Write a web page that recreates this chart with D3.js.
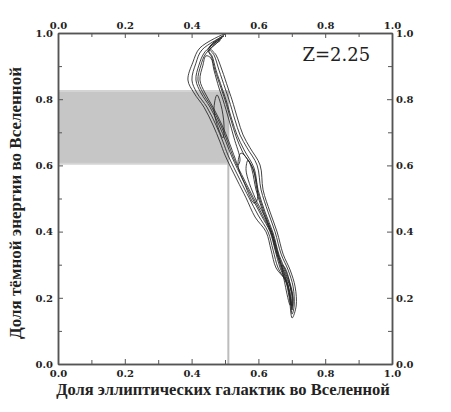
<!DOCTYPE html>
<html><head><meta charset="utf-8">
<script src="https://cdn.jsdelivr.net/npm/d3@7"></script>
<style>html,body{margin:0;padding:0;background:#fff;}svg{display:block;}</style>
</head><body>
<script>
// ---- data ----
const majorTicks = [0, 0.2, 0.4, 0.6, 0.8, 1.0];
const minorTicks = [0.1, 0.3, 0.5, 0.7, 0.9];
const tickLabels = ["0.0", "0.2", "0.4", "0.6", "0.8", "1.0"];
const xTitle = "Доля эллиптических галактик во Вселенной";
const yTitle = "Доля тёмной энергии во Вселенной";
const zLabel = "Z=2.25";
// constraint band (dark energy fraction range) and elliptical fraction
const bandY = [0.605, 0.825];
const bandX = [0, 0.51];
const markerX = 0.51;
// likelihood contours, [elliptical fraction, dark energy fraction]
const contour1 = [[0.500,0.997],[0.425,0.955],[0.404,0.912],[0.389,0.858],[0.407,0.819],[0.437,0.776],[0.464,0.722],[0.485,0.671],[0.500,0.631],[0.536,0.556],[0.563,0.502],[0.590,0.444],[0.623,0.399],[0.638,0.344],[0.653,0.290],[0.680,0.254],[0.692,0.202],[0.701,0.139],[0.713,0.175],[0.710,0.233],[0.695,0.284],[0.674,0.332],[0.656,0.399],[0.635,0.459],[0.614,0.526],[0.605,0.601],[0.575,0.653],[0.554,0.692],[0.539,0.737],[0.521,0.798],[0.509,0.834],[0.491,0.888],[0.473,0.934],[0.455,0.958]];
const contour2 = [[0.497,0.991],[0.431,0.949],[0.413,0.909],[0.401,0.858],[0.416,0.819],[0.446,0.776],[0.473,0.722],[0.494,0.671],[0.509,0.631],[0.545,0.556],[0.572,0.502],[0.599,0.450],[0.629,0.399],[0.644,0.344],[0.659,0.290],[0.683,0.248],[0.695,0.199],[0.701,0.151],[0.707,0.175],[0.704,0.233],[0.689,0.284],[0.668,0.332],[0.650,0.399],[0.629,0.459],[0.608,0.526],[0.596,0.601],[0.566,0.653],[0.545,0.692],[0.530,0.737],[0.512,0.798],[0.500,0.834],[0.482,0.888],[0.467,0.934],[0.452,0.955]];
const contour3 = [[0.491,0.985],[0.440,0.943],[0.422,0.903],[0.413,0.858],[0.428,0.819],[0.455,0.776],[0.482,0.722],[0.503,0.671],[0.521,0.625],[0.554,0.556],[0.581,0.502],[0.608,0.450],[0.635,0.399],[0.650,0.344],[0.665,0.290],[0.686,0.242],[0.695,0.193],[0.701,0.163],[0.704,0.193],[0.698,0.233],[0.683,0.278],[0.662,0.329],[0.644,0.396],[0.620,0.459],[0.599,0.526],[0.587,0.592],[0.557,0.647],[0.536,0.692],[0.521,0.737],[0.503,0.798],[0.491,0.834],[0.473,0.888],[0.461,0.931],[0.449,0.949]];
const contour3b = [[0.486,0.978],[0.442,0.937],[0.428,0.903],[0.419,0.858],[0.434,0.819],[0.460,0.776],[0.487,0.722],[0.508,0.671],[0.526,0.622],[0.558,0.556],[0.585,0.502],[0.612,0.450],[0.638,0.397],[0.653,0.344],[0.668,0.290],[0.688,0.240],[0.697,0.193],[0.701,0.170],[0.703,0.200],[0.696,0.233],[0.680,0.278],[0.659,0.329],[0.641,0.396],[0.617,0.459],[0.596,0.526],[0.584,0.590],[0.553,0.640],[0.533,0.688],[0.518,0.737],[0.500,0.798],[0.488,0.834],[0.470,0.888],[0.460,0.927],[0.452,0.945]];
const contour4a = [[0.443,0.931],[0.434,0.903],[0.425,0.858],[0.440,0.819],[0.464,0.776],[0.491,0.722],[0.512,0.671],[0.530,0.622],[0.539,0.601],[0.545,0.616],[0.527,0.683],[0.512,0.737],[0.494,0.798],[0.482,0.834],[0.467,0.888],[0.458,0.924]];
const contour4b = [[0.563,0.586],[0.590,0.502],[0.617,0.450],[0.641,0.396],[0.656,0.344],[0.671,0.290],[0.689,0.239],[0.698,0.193],[0.701,0.175],[0.701,0.208],[0.695,0.233],[0.677,0.278],[0.656,0.329],[0.638,0.396],[0.614,0.459],[0.593,0.526],[0.581,0.586],[0.569,0.616]];
const contour5a = [[0.476,0.813],[0.467,0.767],[0.482,0.707],[0.494,0.683],[0.497,0.722],[0.488,0.782]];
const contour5b = [[0.548,0.637],[0.539,0.601],[0.560,0.541],[0.587,0.486],[0.596,0.495],[0.593,0.556],[0.575,0.607]];
const contour5c = [[0.671,0.299],[0.680,0.239],[0.695,0.178],[0.698,0.208],[0.692,0.254],[0.680,0.290]];
const contours = [contour1, contour2, contour3, contour3b, contour4a, contour4b, contour5a, contour5b, contour5c];

// ---- layout ----
const W = 451, H = 412;
const m = {left: 58, top: 33, right: 59, bottom: 48};
const iw = W - m.left - m.right, ih = H - m.top - m.bottom;

const svg = d3.select("body").append("svg").attr("width", W).attr("height", H);
const g = svg.append("g").attr("transform", `translate(${m.left},${m.top})`);
const x = d3.scaleLinear().domain([0, 1]).range([0, iw]);
const y = d3.scaleLinear().domain([0, 1]).range([ih, 0]);

// band
g.append("rect")
  .attr("x", x(bandX[0])).attr("y", y(bandY[1]))
  .attr("width", x(bandX[1]) - x(bandX[0])).attr("height", y(bandY[0]) - y(bandY[1]))
  .attr("fill", "#c6c6c6");
[bandY[0], bandY[1]].forEach(v => {
  g.append("line").attr("x1", x(bandX[0])).attr("x2", x(bandX[1]))
    .attr("y1", y(v)).attr("y2", y(v)).attr("stroke", "#d4d4d4").attr("stroke-width", 2);
});
g.append("line").attr("x1", x(markerX)).attr("x2", x(markerX))
  .attr("y1", y(0)).attr("y2", y(bandY[1])).attr("stroke", "#bdbdbd").attr("stroke-width", 2);

// contours
const line = d3.line().x(d => x(d[0])).y(d => y(d[1])).curve(d3.curveCatmullRomClosed.alpha(0.5));
g.selectAll("path.ct").data(contours).join("path").attr("class", "ct")
  .attr("d", line).attr("fill", "none").attr("stroke", "#222").attr("stroke-width", 0.85);

// axes
const axColor = "#555";
function styleAxis(sel) {
  sel.selectAll("path.domain").attr("stroke", axColor).attr("stroke-width", 1.5);
  sel.selectAll(".tick line").attr("stroke", axColor).attr("stroke-width", 1);
  sel.selectAll(".tick text").attr("font-family", "'DejaVu Serif', serif")
    .attr("font-weight", "bold").attr("font-size", 10).attr("fill", "#222");
}
const fmt = (d) => tickLabels[majorTicks.indexOf(d)];
const axes = [
  [d3.axisBottom(x), `translate(0,${ih})`, 6],
  [d3.axisTop(x), `translate(0,0)`, 4],
  [d3.axisLeft(y), `translate(0,0)`, 5],
  [d3.axisRight(y), `translate(${iw},0)`, 4]
];
axes.forEach(([ax, tr, pad]) => {
  const major = g.append("g").attr("transform", tr)
    .call(ax.tickValues(majorTicks).tickFormat(fmt).tickSizeInner(-5).tickSizeOuter(0).tickPadding(pad));
  styleAxis(major);
  const minor = g.append("g").attr("transform", tr)
    .call(ax.tickValues(minorTicks).tickFormat("").tickSizeInner(-4).tickSizeOuter(0));
  styleAxis(minor);
});

// titles
svg.append("text").attr("x", 223).attr("y", 395)
  .attr("text-anchor", "middle").attr("font-family", "'Liberation Serif', serif")
  .attr("font-weight", "bold").attr("font-size", 16.5).attr("fill", "#222").text(xTitle);
svg.append("text").attr("transform", `translate(21,203) rotate(-90)`)
  .attr("text-anchor", "middle").attr("font-family", "'Liberation Serif', serif")
  .attr("font-weight", "bold").attr("font-size", 17).attr("fill", "#222").text(yTitle);
g.append("text").attr("x", x(0.732)).attr("y", y(0.915))
  .attr("font-family", "'DejaVu Serif', serif").attr("font-size", 18).attr("fill", "#222").text(zLabel);
</script>
</body></html>
